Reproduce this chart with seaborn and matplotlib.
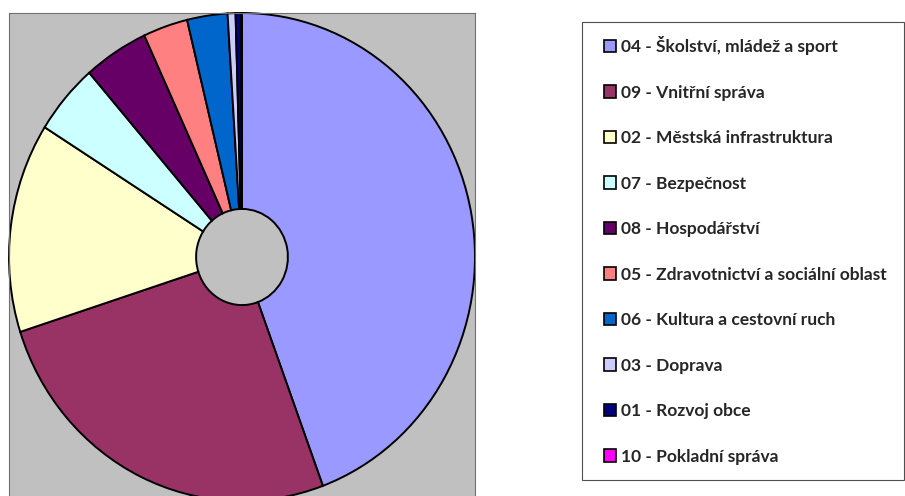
import matplotlib
matplotlib.use("Agg")
import matplotlib.pyplot as plt
import matplotlib.patches as mpatches
import seaborn as sns

# data (share of budget)
labels = [
    "04 - Školství, mládež a sport",
    "09 - Vnitřní správa",
    "02 - Městská infrastruktura",
    "07 - Bezpečnost",
    "08 - Hospodářství",
    "05 - Zdravotnictví a sociální oblast",
    "06 - Kultura a cestovní ruch",
    "03 - Doprava",
    "01 - Rozvoj obce",
    "10 - Pokladní správa",
]
values = [44.4, 25.7, 13.9, 4.7, 4.5, 3.1, 2.8, 0.55, 0.39, 0.05]
colors = ["#9999FF", "#993366", "#FFFFCC", "#CCFFFF", "#660066",
          "#FF8080", "#0066CC", "#CCCCFF", "#000080", "#FF00FF"]

sns.set_style("white")
plt.rcParams["font.family"] = ["Lato", "DejaVu Sans"]

W, H = 905, 496
fig = plt.figure(figsize=(W / 100, H / 100), dpi=100)

# plot area: pie fills it, slightly taller than wide, bottom cut off
ax = fig.add_axes([9 / W, (H - 501) / H, 466 / W, 488 / H])
wedges, _ = ax.pie(values, colors=colors, startangle=90, counterclock=False,
                   radius=1.0,
                   wedgeprops=dict(width=0.803, edgecolor="black", linewidth=1.4))
ax.set_xlim(-1.0, 1.0)
ax.set_ylim(-1.0, 1.0)
ax.set_aspect("auto")
ax.set_frame_on(True)
ax.set_facecolor("#C0C0C0")
for sp in ax.spines.values():
    sp.set_visible(True)
    sp.set_color("#707070")
    sp.set_linewidth(0.8)
ax.set_xticks([])
ax.set_yticks([])

# legend box
frame = mpatches.Rectangle((582 / W, (H - 480) / H), 322 / W, 458 / H,
                           transform=fig.transFigure, fill=False,
                           edgecolor="#505050", linewidth=0.8)
fig.patches.append(frame)

handles = [mpatches.Patch(facecolor=c, edgecolor="black", linewidth=1.2) for c in colors]
leg = fig.legend(handles, labels, loc="upper left",
                 bbox_to_anchor=(604 / W, (H - 36) / H),
                 frameon=False, prop={"weight": "bold", "size": 12.5},
                 handlelength=0.7, handleheight=0.7, handletextpad=0.3,
                 labelspacing=1.7, borderaxespad=0, borderpad=0)

fig.savefig("out.png", dpi=100, facecolor="white")
